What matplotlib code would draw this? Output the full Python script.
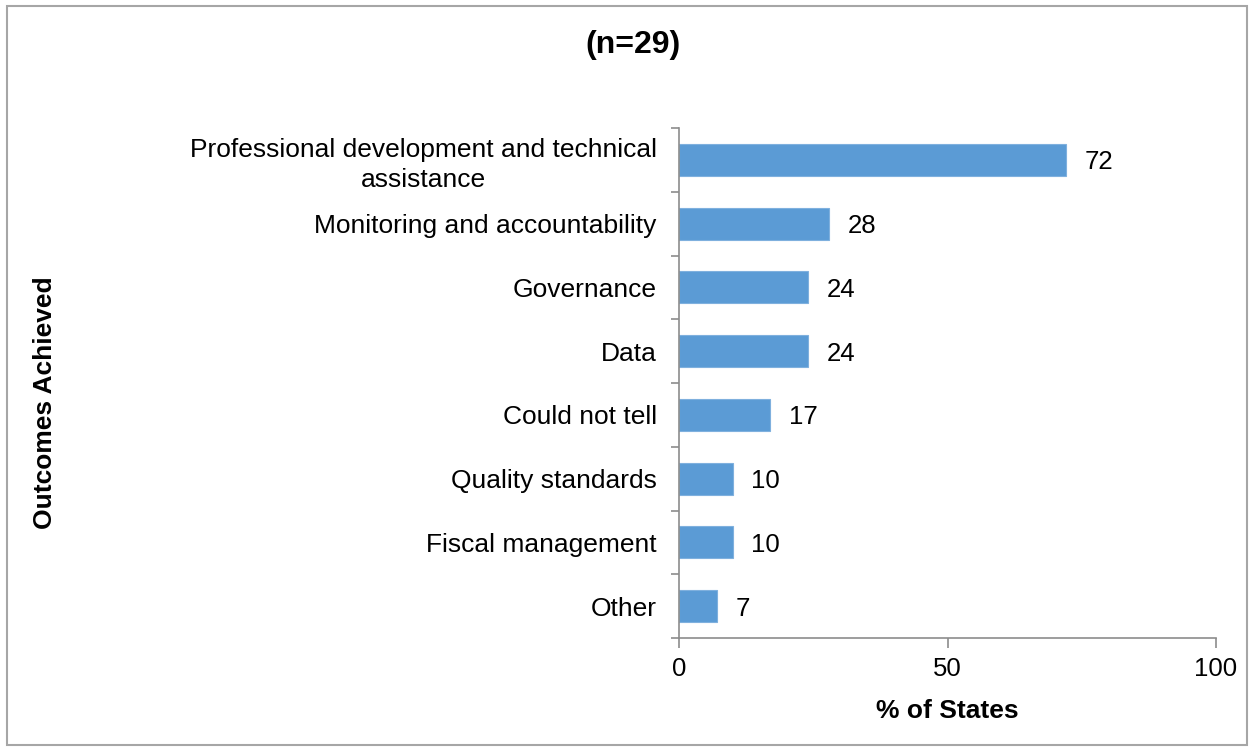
import matplotlib
matplotlib.use("Agg")
import matplotlib.pyplot as plt
from matplotlib.patches import Rectangle
import numpy as np

plt.rcParams['font.family'] = ['Liberation Sans', 'DejaVu Sans']

categories = ["Professional development and technical\nassistance",
              "Monitoring and accountability", "Governance", "Data",
              "Could not tell", "Quality standards", "Fiscal management", "Other"]
values = [72, 28, 24, 24, 17, 10, 10, 7]
xticks = [0, 50, 100]

fig = plt.figure(figsize=(12.53, 7.5), dpi=100)
ax = fig.add_axes([679/1253, 1-638/750, (1216-679)/1253, (638-128)/750])

n = len(categories)
y = np.arange(n)
ax.barh(y, values, height=0.5, color='#5B9BD5', edgecolor='#7FB0DE', linewidth=0.8)
ax.set_ylim(n - 0.5, -0.5)
ax.set_xlim(0, 100)
ax.set_xticks(xticks)
ax.set_xticklabels([str(t) for t in xticks], fontsize=18.5)
ax.set_yticks(y)
ax.set_yticklabels(categories, fontsize=19, linespacing=1.3, ha='right',
                   multialignment='center')
ax.tick_params(axis='y', length=0, pad=16)
ax.set_yticks(np.arange(n + 1) - 0.5, minor=True)
ax.tick_params(axis='y', which='minor', length=6, color='#8c8c8c', width=1.2)
ax.tick_params(axis='x', length=7, color='#8c8c8c', width=1.2, pad=7)

for s in ['top', 'right']:
    ax.spines[s].set_visible(False)
for s in ['left', 'bottom']:
    ax.spines[s].set_color('#8c8c8c')
    ax.spines[s].set_linewidth(1.2)

for yi, v in zip(y, values):
    ax.annotate(str(v), (v, yi), xytext=(13.5, 0), textcoords='offset points',
                va='center_baseline', ha='left', fontsize=18.5)

ax.set_xlabel('% of States', fontsize=19, fontweight='bold', labelpad=13)
fig.text(45/1253, 1-403/750, 'Outcomes Achieved', rotation=90, fontsize=19,
         fontweight='bold', ha='center', va='center')
fig.text(633/1253, 1-45/750, '(n=29)', fontsize=23, fontweight='bold',
         ha='center', va='center')

fig.patches.append(Rectangle((7/1253, 1-745/750), (1247-7)/1253, (745-6)/750,
                             transform=fig.transFigure, fill=False,
                             edgecolor='#a6a6a6', linewidth=1.5))

fig.savefig('out.png', dpi=100, facecolor='white')
